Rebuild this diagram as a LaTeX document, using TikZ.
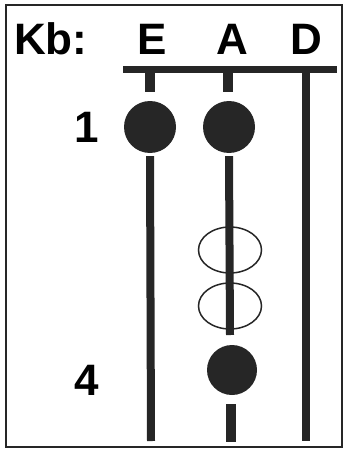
\documentclass[tikz,border=0pt]{standalone}
\usepackage{fontspec}
\setmainfont{Liberation Sans}
\usetikzlibrary{positioning,shapes.geometric}

\begin{document}
\begin{tikzpicture}[
    x=1pt, y=-1pt,
    lbl/.style={font=\fontsize{44}{44}\selectfont\bfseries, inner sep=0pt, anchor=base},
    dot/.style={circle, fill=black!85, minimum size=52pt, inner sep=0pt},
    ring/.style={ellipse, draw=black!85, line width=1.5pt, minimum width=63pt, minimum height=46pt, inner sep=0pt},
    strg/.style={draw=black!85, line width=8pt},
    bar/.style={draw=black!85, line width=7pt}
  ]
  \useasboundingbox (0,0) rectangle (349,452);
  \draw[line width=1.8pt, black!85] (6,5) rectangle (342,447);

  % header
  \node[lbl, anchor=base west] (kb) at (14,55) {Kb:};
  \node[lbl] (lE) at (152,55) {E};
  \node[lbl] (lA) at (232,55) {A};
  \node[lbl] (lD) at (306,55) {D};

  % fret numbers
  \node[lbl] (f1) at (87,142) {1};
  \node[lbl] (f4) at (87,395) {4};

  % nut and strings
  \coordinate (nutL) at (123,69);
  \coordinate (nutR) at (337,69);
  \draw[bar] (nutL) -- (nutR);
  \coordinate (eTop) at (150,69);
  \coordinate (eStub) at (150,92);
  \coordinate (aTop) at (228,69);
  \coordinate (aStub) at (228,92);
  \draw[strg, line width=10pt] (eTop) -- (eStub);
  \draw[strg, line width=10pt] (aTop) -- (aStub);
  \coordinate (dTop) at (306,69);
  \coordinate (dEnd) at (306,441);
  \draw[strg] (dTop) -- (dEnd);

  % fingers
  \node[dot] (e1) at (150,127) {};
  \node[dot] (a1) at (229,127) {};
  \node[dot, minimum width=50pt, minimum height=47pt] (a4) at (232,370) {};

  \coordinate (eEnd) at (151,441);
  \coordinate (aEnd) at (230,335);
  \draw[strg] (e1.south) ++(0,3) -- (eEnd);
  \draw[strg] (a1.south) ++(0,3) -- (aEnd);
  \coordinate (bTop) at (231,404);
  \coordinate (bEnd) at (231,442);
  \draw[strg, line width=10pt] (bTop) -- (bEnd);

  % open positions
  \node[ring] (r2) at (230,250) {};
  \node[ring] (r3) at (230,306) {};
\end{tikzpicture}
\end{document}
